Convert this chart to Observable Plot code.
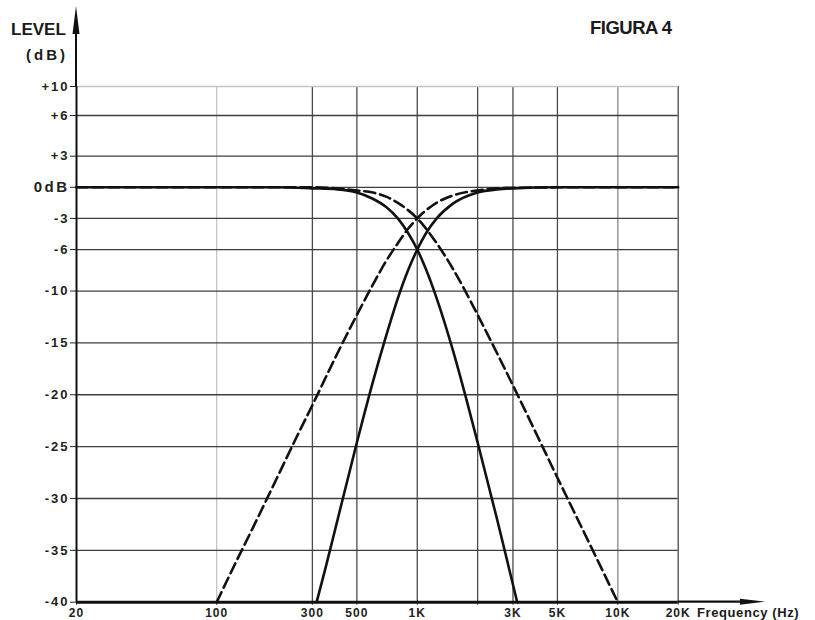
<!DOCTYPE html>
<html>
<head>
<meta charset="utf-8">
<script src="https://cdn.jsdelivr.net/npm/d3@7"></script>
<script src="https://cdn.jsdelivr.net/npm/@observablehq/plot@0.6"></script>
<style>
  html, body { margin: 0; padding: 0; background: #fff; }
  svg { display: block; }
</style>
</head>
<body>
<div id="chart"></div>
<script>
// ---- axis ticks & labels ----
const freqTicks  = [20, 100, 300, 500, 1000, 2000, 3000, 5000, 10000, 20000];
const freqLabels = ["20", "100", "300", "500", "1K", "", "3K", "5K", "10K", "20K"];
const gridFreqs  = [100, 300, 500, 1000, 2000, 3000, 5000, 10000, 20000];
const levelTicks  = [10, 6, 3, 0, -3, -6, -10, -15, -20, -25, -30, -35, -40];
const levelLabels = ["+10", "+6", "+3", "0dB", "-3", "-6", "-10", "-15", "-20", "-25", "-30", "-35", "-40"];
const floorDb = -40;

// ---- curves; each runs along the -40 dB floor outside its range ----
// solid low-pass
const solidLowFreq = [20, 200, 300, 400, 500, 600, 700, 800, 900, 1000, 1100, 1250, 1500, 1750, 2000, 2500, 3000, 3150];
const solidLowDb   = [0, 0, -0.1, -0.2, -0.5, -1.1, -1.9, -3.0, -4.4, -6.0, -7.8, -10.7, -15.6, -20.3, -24.6, -32.0, -38.3, -40];
// solid high-pass
const solidHighFreq = [315, 350, 400, 500, 600, 700, 800, 900, 1000, 1100, 1250, 1500, 2000, 2500, 3000, 5000, 20000];
const solidHighDb   = [-40, -36.6, -32.1, -24.6, -18.8, -14.3, -10.7, -8.0, -6.0, -4.5, -3.0, -1.6, -0.5, -0.2, -0.1, 0, 0];
// dashed low-pass
const dashLowFreq = [20, 300, 500, 600, 700, 800, 900, 1000, 1200, 1500, 2000, 2500, 3000, 4000, 5000, 7000, 10000];
const dashLowDb   = [0, 0, -0.3, -0.5, -0.9, -1.5, -2.2, -3.0, -4.9, -7.8, -12.3, -16.0, -19.1, -24.1, -28.0, -33.8, -40];
// dashed high-pass
const dashHighFreq = [100, 125, 150, 200, 250, 300, 400, 500, 600, 700, 800, 900, 1000, 1200, 1500, 2000, 3000, 5000, 20000];
const dashHighDb   = [-40, -36.1, -33.0, -28.0, -24.1, -21.0, -16.0, -12.3, -9.4, -7.1, -5.4, -4.0, -3.0, -1.7, -0.8, -0.3, -0.05, 0, 0];

const toRows = (fs, ds) => fs.map((f, i) => ({f, db: ds[i]}));

const W = 815, H = 620;
const mL = 76, mR = 137.3, mT = 86, mB = 18.3;
const font = "'Liberation Sans', Arial, Helvetica, sans-serif";

const chart = Plot.plot({
  width: W,
  height: H,
  marginLeft: mL,
  marginRight: mR,
  marginTop: mT,
  marginBottom: mB,
  style: {fontFamily: font, fontWeight: "bold", fontSize: "12px", color: "#222", background: "#fff", overflow: "visible"},
  x: {
    type: "log",
    domain: [20, 20000],
    ticks: freqTicks,
    tickFormat: () => "",
    tickSize: 3,
    tickPadding: 2,
    label: null
  },
  y: {
    type: "linear",
    domain: [-40, 3, 6, 10],
    range: [H - mB, 155.7, 115, mT],
    ticks: levelTicks,
    tickFormat: d => levelLabels[levelTicks.indexOf(d)],
    tickSize: 6,
    tickPadding: 1,
    label: null
  },
  marks: [
    Plot.ruleX(gridFreqs, {stroke: d => d === 100 ? "#c4c4c4" : (d === 10000 ? "#8a8a8a" : "#4a4a4a"), strokeWidth: 1.3}),
    Plot.ruleY(levelTicks.filter(d => d !== -40), {stroke: d => d === 10 ? "#c4c4c4" : "#3e3e3e", strokeWidth: 1.3}),
    Plot.line(toRows(dashHighFreq, dashHighDb), {x: "f", y: "db", stroke: "#111", strokeWidth: 2.6, strokeDasharray: "11,5", curve: "monotone-x"}),
    Plot.line(toRows(dashLowFreq, dashLowDb), {x: "f", y: "db", stroke: "#111", strokeWidth: 2.6, strokeDasharray: "11,5", curve: "monotone-x"}),
    Plot.line(toRows(solidHighFreq, solidHighDb), {x: "f", y: "db", stroke: "#111", strokeWidth: 2.6, curve: "monotone-x"}),
    Plot.line(toRows(solidLowFreq, solidLowDb), {x: "f", y: "db", stroke: "#111", strokeWidth: 2.6, curve: "monotone-x"}),
    Plot.ruleY([floorDb], {stroke: "#111", strokeWidth: 3}),
    Plot.ruleX([freqTicks[0]], {stroke: "#111", strokeWidth: 2}),
    Plot.text(freqTicks, {
      x: d => d,
      y: floorDb,
      text: (d, i) => freqLabels[i],
      dy: 11,
      fontSize: 12,
      fontWeight: "bold",
      fill: "#222"
    })
  ]
});

document.getElementById("chart").appendChild(chart);

const svg = d3.select(chart);

// style tick labels
svg.selectAll('[aria-label^="y-axis"] text').style("letter-spacing", "2px").style("font-size", "13px");
svg.selectAll('[aria-label^="y-axis"] text').filter(function() { return this.textContent === "0dB"; })
  .style("font-size", "15px").style("letter-spacing", "2.5px");
svg.selectAll('[aria-label="text"] text').style("letter-spacing", "1px");

const deco = svg.append("g");
const yAxisX = mL, xAxisY = H - mB, xEnd = W - mR;

// y-axis extension with arrow
deco.append("line").attr("x1", yAxisX).attr("x2", yAxisX).attr("y1", mT).attr("y2", 14)
  .attr("stroke", "#111").attr("stroke-width", 2);
deco.append("path").attr("d", `M${yAxisX},6 L${yAxisX + 3.5},34 L${yAxisX - 3.5},34 Z`).attr("fill", "#111");

// x-axis extension with arrow
deco.append("line").attr("x1", xEnd).attr("x2", 748).attr("y1", xAxisY).attr("y2", xAxisY)
  .attr("stroke", "#111").attr("stroke-width", 2.2);
deco.append("path").attr("d", `M765,${xAxisY} L740,${xAxisY - 3} L740,${xAxisY + 3} Z`).attr("fill", "#111");

// titles / labels
const txt = (x, y, s, size, ls, anchor = "start") =>
  deco.append("text").attr("x", x).attr("y", y).text(s)
    .attr("font-family", font).attr("font-weight", "bold").attr("font-size", size)
    .attr("letter-spacing", ls).attr("fill", "#1a1a1a").attr("text-anchor", anchor);

txt(11, 35, "LEVEL", "17px", "0px");
txt(26, 60, "(dB)", "15px", "3px");
txt(590, 34, "FIGURA 4", "18.5px", "-0.5px");
txt(697, 617, "Frequency (Hz)", "13px", "0.6px");
</script>
</body>
</html>
